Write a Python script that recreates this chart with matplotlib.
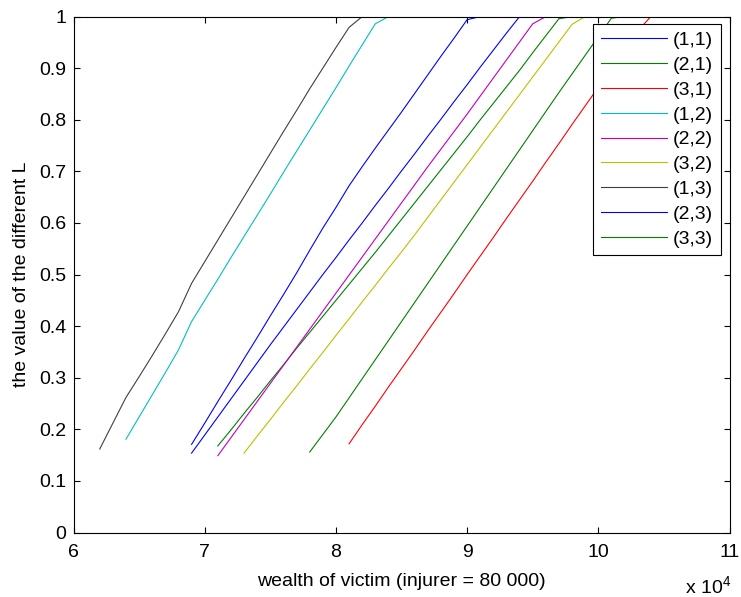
import numpy as np
import matplotlib.pyplot as plt

plt.rcParams['font.family'] = ['Liberation Sans', 'DejaVu Sans']
plt.rcParams['mathtext.fontset'] = 'custom'
plt.rcParams['mathtext.rm'] = 'Liberation Sans'

# series labels and colours (MATLAB default order)
labels = ['(1,1)', '(2,1)', '(3,1)', '(1,2)', '(2,2)', '(3,2)', '(1,3)', '(2,3)', '(3,3)']
colors = ['#0000ff', '#008000', '#ff0000', '#00bfbf', '#bf00bf', '#bfbf00', '#404040', '#0000ff', '#008000']

# wealth of victim where each curve starts (step of 1000)
starts = [69000, 71000, 81000, 64000, 71000, 73000, 62000, 69000, 78000]

# values of L
L11 = [0.171, 0.212, 0.254, 0.295, 0.337, 0.378, 0.420, 0.461, 0.503, 0.547, 0.590,
       0.630, 0.672, 0.709, 0.745, 0.780, 0.815, 0.851, 0.887, 0.923, 0.958, 0.994, 1.0]
L21 = [0.168, 0.199, 0.231, 0.262, 0.294, 0.325, 0.357, 0.388, 0.419, 0.450, 0.481,
       0.512, 0.543, 0.575, 0.607, 0.639, 0.671, 0.703, 0.735, 0.767, 0.800, 0.832,
       0.864, 0.896, 0.930, 0.963, 0.996, 1.0]
L31 = [0.172, 0.209, 0.245, 0.282, 0.318, 0.354, 0.391, 0.427, 0.463, 0.500, 0.536,
       0.572, 0.609, 0.645, 0.681, 0.718, 0.754, 0.791, 0.827, 0.863, 0.900, 0.936,
       0.972, 1.0]
L12 = [0.181, 0.224, 0.267, 0.310, 0.354, 0.409, 0.450, 0.491, 0.533, 0.574, 0.615,
       0.656, 0.698, 0.739, 0.780, 0.821, 0.862, 0.904, 0.945, 0.986, 1.0]
L22 = [0.149, 0.184, 0.219, 0.254, 0.289, 0.324, 0.359, 0.394, 0.429, 0.464, 0.499,
       0.534, 0.569, 0.604, 0.639, 0.674, 0.709, 0.743, 0.777, 0.811, 0.846, 0.881,
       0.916, 0.951, 0.986, 1.0]
L32 = [0.154, 0.187, 0.219, 0.252, 0.284, 0.317, 0.349, 0.382, 0.414, 0.447, 0.479,
       0.512, 0.544, 0.577, 0.611, 0.645, 0.679, 0.713, 0.747, 0.781, 0.815, 0.849,
       0.883, 0.917, 0.951, 0.985, 1.0]
L13 = [0.162, 0.212, 0.262, 0.302, 0.343, 0.385, 0.428, 0.483, 0.525, 0.567, 0.609,
       0.651, 0.693, 0.735, 0.777, 0.818, 0.860, 0.900, 0.940, 0.979, 1.0]
L23 = [0.154, 0.189, 0.224, 0.259, 0.294, 0.329, 0.364, 0.398, 0.432, 0.466, 0.500,
       0.533, 0.567, 0.600, 0.634, 0.667, 0.701, 0.734, 0.768, 0.801, 0.835, 0.868,
       0.902, 0.935, 0.968, 1.0]
L33 = [0.156, 0.190, 0.224, 0.261, 0.298, 0.335, 0.372, 0.409, 0.446, 0.483, 0.520,
       0.557, 0.594, 0.631, 0.668, 0.705, 0.742, 0.779, 0.816, 0.853, 0.889, 0.925,
       0.961, 0.997, 1.0]
series = [L11, L21, L31, L12, L22, L32, L13, L23, L33]

fig = plt.figure(figsize=(7.41, 5.97), dpi=100)
ax = fig.add_axes([0.0992, 0.1079, 0.8853, 0.8643])

for s, y, c, lab in zip(starts, series, colors, labels):
    x = s + 1000 * np.arange(len(y))
    # L stays at 1 up to the end of the range
    x = np.append(x, 110000)
    y = np.append(y, 1.0)
    ax.plot(x / 1e4, y, color=c, lw=0.8, label=lab)

ax.set_xlim(6, 11)
ax.set_ylim(0, 1)
ax.set_xticks([6, 7, 8, 9, 10, 11])
ax.set_yticks(np.arange(0, 1.01, 0.1))
ax.set_yticklabels(['0', '0.1', '0.2', '0.3', '0.4', '0.5', '0.6', '0.7', '0.8', '0.9', '1'])
ax.tick_params(direction='in', top=True, right=True, length=4, width=0.8, labelsize=14)
ax.tick_params(axis='x', pad=8.5)
ax.tick_params(axis='y', pad=5)
for sp in ax.spines.values():
    sp.set_linewidth(0.8)

ax.set_xlabel('wealth of victim (injurer = 80 000)', fontsize=14, labelpad=8)
ax.set_ylabel('the value of the different L', fontsize=14, labelpad=7)
fig.text(0.924, 0.005, r'x 10$^4$', fontsize=14, va='baseline')

leg = ax.legend(loc='upper right', bbox_to_anchor=(0.987, 0.986), borderaxespad=0,
                fontsize=14, handlelength=3.4, labelspacing=0.37, fancybox=False,
                framealpha=1, edgecolor='black', borderpad=0.4, handletextpad=0.3)
leg.get_frame().set_linewidth(0.8)

fig.savefig('out.png', dpi=100)
